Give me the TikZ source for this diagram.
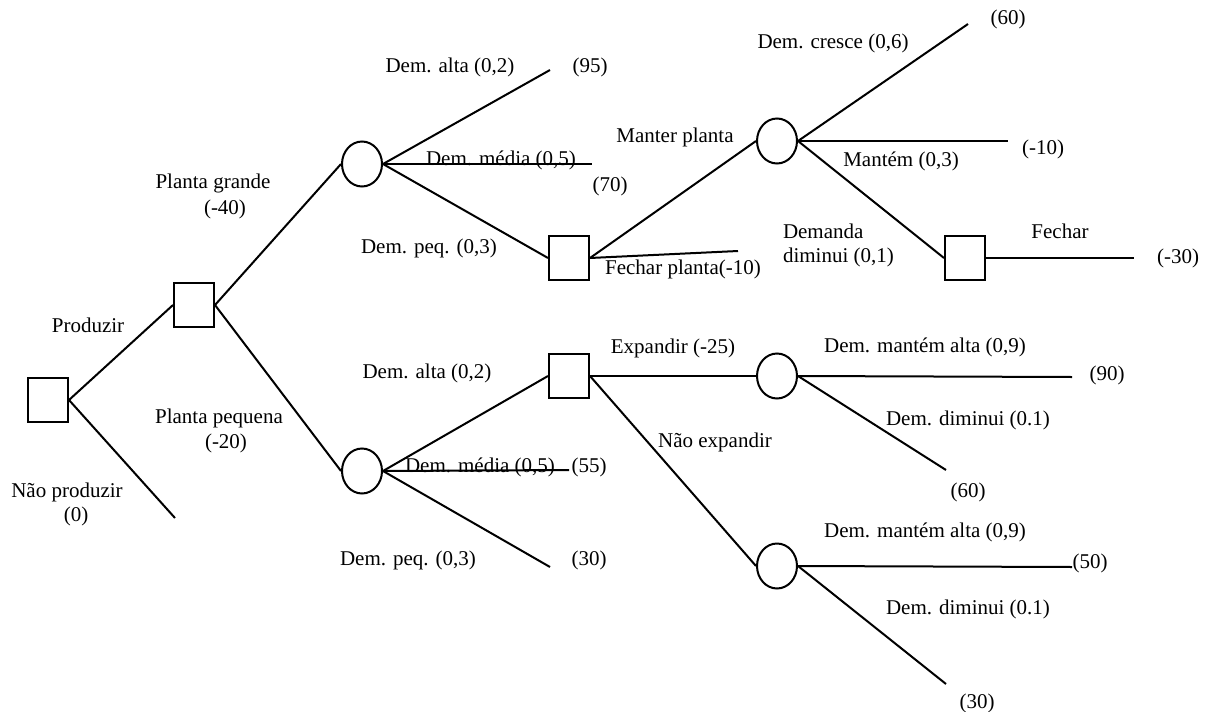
\documentclass[tikz,border=0pt]{standalone}
\usepackage{fontspec}
\setmainfont{Liberation Serif}
\usetikzlibrary{shapes.geometric}
\begin{document}
\begin{tikzpicture}[x=1pt,y=-1pt,line width=2pt,
  dec/.style={draw,rectangle,minimum width=40pt,minimum height=44pt,inner sep=0pt},
  chance/.style={draw,ellipse,minimum width=40pt,minimum height=45pt,inner sep=0pt},
  lbl/.style={inner sep=0pt,font=\fontsize{21}{25}\selectfont}]
\useasboundingbox (0,0) rectangle (1210,712);
% decision and chance nodes
\node[dec] (d0) at (48,400) {};
\node[dec] (d1) at (194,305) {};
\node[chance] (c1) at (362,164) {};
\node[dec] (d2) at (569,258) {};
\node[chance] (c3) at (777,141) {};
\node[dec] (d3) at (965,258) {};
\node[chance] (c2) at (362,471) {};
\node[dec] (d4) at (569,376) {};
\node[chance] (c4) at (777,376) {};
\node[chance] (c5) at (777,566) {};
% free ends
\coordinate (e0) at (175,518);
\coordinate (e1) at (550,70);
\coordinate (e2) at (592,164);
\coordinate (e3) at (738,251);
\coordinate (e4) at (968,24);
\coordinate (e5) at (1008,141);
\coordinate (e6) at (1134,258);
\coordinate (e7) at (569,470);
\coordinate (e8) at (550,567);
\coordinate (e9) at (1072,377);
\coordinate (e10) at (946,470);
\coordinate (e11) at (1072,567);
\coordinate (e12) at (946,684);
% connectors
\draw (d0.east) -- (d1.west);
\draw (d0.east) -- (e0);
\draw (d1.east) -- (c1.west);
\draw (d1.east) -- (c2.west);
\draw (c1.east) -- (e1);
\draw (c1.east) -- (e2);
\draw (c1.east) -- (d2.west);
\draw (d2.east) -- (c3.west);
\draw (d2.east) -- (e3);
\draw (c3.east) -- (e4);
\draw (c3.east) -- (e5);
\draw (c3.east) -- (d3.west);
\draw (d3.east) -- (e6);
\draw (c2.east) -- (d4.west);
\draw (c2.east) -- (e7);
\draw (c2.east) -- (e8);
\draw (d4.east) -- (c4.west);
\draw (d4.east) -- (c5.west);
\draw (c4.east) -- (e9);
\draw (c4.east) -- (e10);
\draw (c5.east) -- (e11);
\draw (c5.east) -- (e12);
% labels
\node[lbl] (l1) at (88,325) {Produzir};
\node[lbl] (l2) at (67,492) {Não produzir};
\node[lbl] (l3) at (76,516) {(0)};
\node[lbl] (l4) at (213,183) {Planta grande};
\node[lbl] (l5) at (225,209) {(-40)};
\node[lbl] (l6) at (219,418) {Planta pequena};
\node[lbl] (l7) at (226,443) {(-20)};
\node[lbl] (l8) at (450,67) {Dem. alta (0,2)};
\node[lbl] (l9) at (590,67) {(95)};
\node[lbl] (l10) at (501,160) {Dem. média (0,5)};
\node[lbl] (l11) at (610,186) {(70)};
\node[lbl] (l12) at (429,248) {Dem. peq. (0,3)};
\node[lbl] (l13) at (675,137) {Manter planta};
\node[lbl] (l14) at (683,269) {Fechar planta(-10)};
\node[lbl] (l15) at (833,43) {Dem. cresce (0,6)};
\node[lbl] (l16) at (1008,19) {(60)};
\node[lbl] (l17) at (1043,149) {(-10)};
\node[lbl] (l18) at (901,161) {Mantém (0,3)};
\node[lbl,anchor=west] (l19) at (782,231) {Demanda};
\node[lbl,anchor=west] (l20) at (782,257) {diminui (0,1)};
\node[lbl] (l21) at (1060,231) {Fechar};
\node[lbl] (l22) at (1178,258) {(-30)};
\node[lbl] (l23) at (427,373) {Dem. alta (0,2)};
\node[lbl] (l24) at (480,467) {Dem. média (0,5)};
\node[lbl] (l25) at (589,467) {(55)};
\node[lbl] (l26) at (408,560) {Dem. peq. (0,3)};
\node[lbl] (l27) at (589,560) {(30)};
\node[lbl] (l28) at (673,348) {Expandir (-25)};
\node[lbl] (l29) at (715,442) {Não expandir};
\node[lbl] (l30) at (925,347) {Dem. mantém alta (0,9)};
\node[lbl] (l31) at (1107,375) {(90)};
\node[lbl] (l32) at (968,420) {Dem. diminui (0.1)};
\node[lbl] (l33) at (968,492) {(60)};
\node[lbl] (l34) at (925,532) {Dem. mantém alta (0,9)};
\node[lbl] (l35) at (1090,563) {(50)};
\node[lbl] (l36) at (968,609) {Dem. diminui (0.1)};
\node[lbl] (l37) at (977,703) {(30)};
\end{tikzpicture}
\end{document}
